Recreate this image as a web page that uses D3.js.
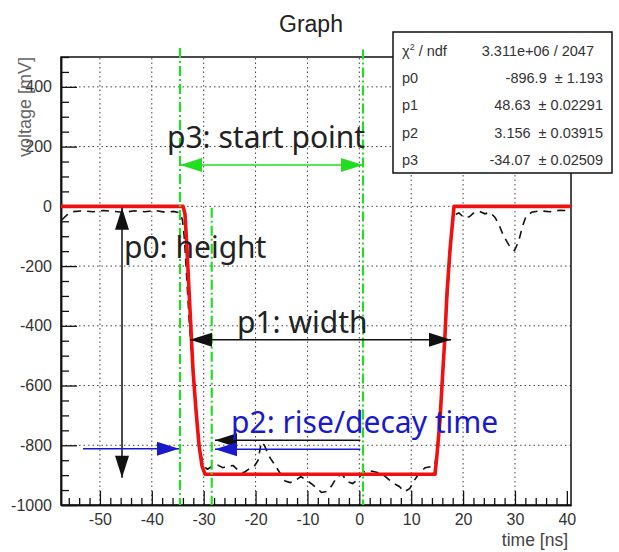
<!DOCTYPE html>
<html>
<head>
<meta charset="utf-8">
<script src="https://cdn.jsdelivr.net/npm/d3@7"></script>
<style>
body { margin: 0; background: #fff; }
svg { display: block; }
</style>
</head>
<body>
<svg id="chart" width="619" height="552"></svg>
<script>
// DATA
// measured trace (time [ns], voltage [mV]) read off the picture
var traceTime = [-57.3, -56.3, -55.3, -53.3, -51.3, -49.3, -47.3, -45.3, -43.3, -41.3, -39.3, -37.3, -35.8, -34.6, -34.1, -33.7, -33.3, -32.8, -32.3, -31.8, -31.3, -30.8, -30.3, -29.8, -29.3,
    -28.3, -27.3, -26.3, -25.3, -24.3, -23.3, -22.3, -21.3, -20.3, -19.5, -18.9, -18.3, -17.7, -17.1, -16.3, -15.3, -14.3, -13.3, -12.3, -11.3, -10.3, -9.3, -8.3, -7.3, -6.3, -5.3, -4.3, -3.3, -2.3, -1.3, -0.3,
    0.7, 1.7, 2.7, 3.7, 4.7, 5.7, 6.7, 7.7, 8.7, 9.7, 10.7, 11.7, 12.7, 13.7, 14.5, 15, 15.5, 16, 16.5, 17, 17.5, 17.9, 18.3, 19.2, 20.2, 21.2, 22.2, 23.2, 24.2, 25.2,
    26.2, 27, 27.7, 28.5, 29.2, 29.9, 30.7, 31.4, 32.1, 33.2, 34.7, 36.7, 38.7, 40.7];
var traceVolt = [-45, -28, -18, -15, -18, -14, -17, -20, -15, -18, -14, -20, -17, -22, -45, -110, -230, -380, -500, -620, -720, -800, -850, -872, -880,
    -870, -866, -875, -870, -868, -885, -892, -880, -872, -850, -790, -800, -825, -845, -865, -893, -920, -925, -918, -905, -915, -928, -942, -958, -955, -935, -905, -898, -922, -928, -915,
    -890, -884, -888, -892, -900, -915, -928, -938, -955, -945, -915, -890, -875, -872, -870, -820, -720, -590, -440, -300, -160, -70, -28, -22, -38, -35, -20, -17, -25, -20,
    -38, -65, -95, -120, -140, -148, -118, -70, -35, -20, -15, -18, -13, -15];

// fit curve
var fitTime = [-57.5, -33.98, -33.6, -33.21, -32.83, -32.44, -32.06, -31.48, -30.9, -30.32, -29.74, 14.59, 14.97, 15.55, 15.94, 16.52, 16.9, 17.48, 17.87, 18.25, 40.8];
var fitVolt = [0, 0, -26, -146, -280, -414, -548, -682, -799, -869, -897, -897, -832, -715, -598, -430, -290, -146, -72, 0, 0];

// axes
var xDomain = [-57.5, 40.8];
var yDomain = [-1000, 500];
var xMajor = [-50, -40, -30, -20, -10, 0, 10, 20, 30, 40];
var yMajor = [-1000, -800, -600, -400, -200, 0, 200, 400];

// stats box
var statNames = ['p0', 'p1', 'p2', 'p3'];
var statValues = ['-896.9', '48.63', '3.156', '-34.07'];
var statErrors = ['1.193', '0.02291', '0.03915', '0.02509'];
var chiText = '3.311e+06 / 2047';

// annotation marks (time, voltage)
var greenLines = [[-34.56, 530], [-28.45, -5], [0.71, 525]];
var labels = ['p3: start point', 'p0: height', 'p1: width', 'p2: rise/decay time'];

//.................................................................................................................//
var svg = d3.select('#chart');
var x = d3.scaleLinear().domain(xDomain).range([61, 571]);
var y = d3.scaleLinear().domain(yDomain).range([505, 57]);
var sans = 'Liberation Sans, Arial, sans-serif';

// Title
svg.append('text')
    .attr('x', 311).attr('y', 32)
    .attr('text-anchor', 'middle')
    .style('font-family', sans)
    .style('font-size', '23px')
    .style('fill', '#222')
    .text('Graph');

// Grid
svg.append('g').selectAll('line')
    .data(xMajor.filter(d => d < 40))
    .enter().append('line')
    .attr('x1', d => x(d)).attr('x2', d => x(d))
    .attr('y1', y(yDomain[0])).attr('y2', y(yDomain[1]))
    .style('stroke', '#444').style('stroke-width', 1)
    .style('stroke-dasharray', '1.5,3');
svg.append('g').selectAll('line')
    .data(yMajor.filter(d => d > -1000))
    .enter().append('line')
    .attr('x1', x(xDomain[0])).attr('x2', x(xDomain[1]))
    .attr('y1', d => y(d)).attr('y2', d => y(d))
    .style('stroke', '#444').style('stroke-width', 1)
    .style('stroke-dasharray', '1.5,3');

// Axes (ticks inside, ROOT style)
var xMinor = d3.range(-56, 40.1, 2).filter(d => xMajor.indexOf(d) < 0);
var yMinor = d3.range(-1000, 500.1, 50).filter(d => yMajor.indexOf(d) < 0);

var gx = svg.append('g').attr('transform', 'translate(0,' + y(yDomain[0]) + ')');
gx.call(d3.axisBottom(x).tickValues(xMajor).tickFormat(d => String(d)).tickSizeInner(-14).tickSizeOuter(0).tickPadding(9));
gx.append('g').call(d3.axisBottom(x).tickValues(xMinor).tickSizeInner(-7).tickSizeOuter(0).tickFormat(''));
var gy = svg.append('g').attr('transform', 'translate(' + x(xDomain[0]) + ',0)');
gy.call(d3.axisLeft(y).tickValues(yMajor).tickFormat(d => String(d)).tickSizeInner(-16).tickSizeOuter(0).tickPadding(9));
gy.append('g').call(d3.axisLeft(y).tickValues(yMinor).tickSizeInner(-8).tickSizeOuter(0).tickFormat(''));
svg.selectAll('.tick line').style('stroke', '#111').style('stroke-width', 1.3);
svg.selectAll('.domain').style('stroke', '#111').style('stroke-width', 1.5);
svg.selectAll('.tick text')
    .style('font-family', sans)
    .style('font-size', '16px')
    .style('fill', '#333');

// Frame
svg.append('rect')
    .attr('x', x(xDomain[0])).attr('y', y(yDomain[1]))
    .attr('width', x(xDomain[1]) - x(xDomain[0])).attr('height', y(yDomain[0]) - y(yDomain[1]))
    .style('fill', 'none').style('stroke', '#111').style('stroke-width', 1.5);

// Axis titles
svg.append('text')
    .attr('transform', 'translate(31,' + y(yDomain[1]) + ') rotate(-90)')
    .attr('text-anchor', 'end')
    .style('font-family', sans)
    .style('font-size', '18px')
    .style('fill', '#666')
    .text('voltage [mV]');
svg.append('text')
    .attr('x', 568).attr('y', 546)
    .attr('text-anchor', 'end')
    .style('font-family', sans)
    .style('font-size', '17.5px')
    .style('fill', '#444')
    .text('time [ns]');

// Clip
svg.append('clipPath').attr('id', 'plotclip').append('rect')
    .attr('x', x(xDomain[0])).attr('y', y(yDomain[1]))
    .attr('width', x(xDomain[1]) - x(xDomain[0])).attr('height', y(yDomain[0]) - y(yDomain[1]));

// Measured trace (dashed black)
var traceLine = d3.line().x(d => x(d[0])).y(d => y(d[1]));
svg.append('path')
    .datum(traceTime.map((t, i) => [t, traceVolt[i]]))
    .attr('d', traceLine)
    .attr('clip-path', 'url(#plotclip)')
    .style('fill', 'none').style('stroke', '#111').style('stroke-width', 1.6)
    .style('stroke-dasharray', '8,6');

// Fit (red)
svg.append('path')
    .datum(fitTime.map((t, i) => [t, fitVolt[i]]))
    .attr('d', traceLine)
    .attr('clip-path', 'url(#plotclip)')
    .style('fill', 'none').style('stroke', '#f01010').style('stroke-width', 3.6)
    .style('stroke-linejoin', 'round');

//.................................................................................................................//
// ANNOTATIONS
function arrowHead(tx, ty, dx, dy, color) {
    var len = 22, hw = 7;
    var n = Math.sqrt(dx * dx + dy * dy); dx /= n; dy /= n;
    var bx = tx - dx * len, by = ty - dy * len;
    svg.append('polygon')
        .attr('points', [[tx, ty], [bx - dy * hw, by + dx * hw], [bx + dy * hw, by - dx * hw]].map(p => p.join(',')).join(' '))
        .style('fill', color);
}
function arrow(t1, v1, t2, v2, color, both) {
    var x1 = x(t1), y1 = y(v1), x2 = x(t2), y2 = y(v2);
    svg.append('line')
        .attr('x1', x1).attr('y1', y1).attr('x2', x2).attr('y2', y2)
        .style('stroke', color).style('stroke-width', 1.5);
    arrowHead(x2, y2, x2 - x1, y2 - y1, color);
    if (both) arrowHead(x1, y1, x1 - x2, y1 - y2, color);
}
function label(t, v, txt, color) {
    svg.append('text')
        .attr('x', x(t)).attr('y', y(v))
        .style('font-family', 'Noto Sans, sans-serif')
        .style('font-size', '30px')
        .style('fill', color)
        .text(txt);
}

// green dash-dot markers
svg.append('g').selectAll('line')
    .data(greenLines)
    .enter().append('line')
    .attr('x1', d => x(d[0])).attr('x2', d => x(d[0]))
    .attr('y1', d => y(d[1])).attr('y2', y(yDomain[0]))
    .style('stroke', '#22dd22').style('stroke-width', 2.2)
    .style('stroke-dasharray', '10,3,2,3');

arrow(-34.56, 138, 0.71, 138, '#22dd22', true);
label(-37.07, 195, labels[0], '#222');

arrow(-45.74, -5, -45.74, -909, '#111', true);
label(-45.36, -173, labels[1], '#222');

arrow(-32.64, -447, 17.67, -447, '#111', true);
label(-23.58, -424, labels[2], '#222');

arrow(-53.26, -812, -34.76, -812, '#1a1acc', false);
arrow(0.2, -783, -27.82, -783, '#111', false);
arrow(0.2, -813, -27.82, -813, '#1a1acc', false);
label(-24.73, -759, labels[3], '#1a1acc');

//.................................................................................................................//
// STATS BOX
var box = svg.append('g');
box.append('rect')
    .attr('x', 393).attr('y', 32).attr('width', 219).attr('height', 141)
    .style('fill', '#fff').style('stroke', '#111').style('stroke-width', 1.5);
var rowY = [56, 83, 110, 138, 165];
var chi = box.append('text')
    .attr('x', 402).attr('y', rowY[0])
    .style('font-family', sans)
    .style('font-size', '14.5px').style('fill', '#333');
chi.append('tspan').text('χ');
chi.append('tspan').attr('dy', -6).style('font-size', '9px').text('2');
chi.append('tspan').attr('dy', 6).text(' / ndf');
box.append('text')
    .attr('x', 594).attr('y', rowY[0]).attr('text-anchor', 'end')
    .style('font-family', sans)
    .style('font-size', '14.5px').style('fill', '#333')
    .text(chiText);
statNames.forEach(function(n, i) {
    box.append('text')
        .attr('x', 402).attr('y', rowY[i + 1])
        .style('font-family', sans)
        .style('font-size', '14.5px').style('fill', '#333')
        .text(n);
    var err = box.append('text')
        .attr('x', 603).attr('y', rowY[i + 1]).attr('text-anchor', 'end')
        .style('font-family', sans)
        .style('font-size', '14.5px').style('fill', '#333')
        .text('\u00b1 ' + statErrors[i]);
    var w = err.node().getComputedTextLength();
    box.append('text')
        .attr('x', 603 - w - 8).attr('y', rowY[i + 1]).attr('text-anchor', 'end')
        .style('font-family', sans)
        .style('font-size', '14.5px').style('fill', '#333')
        .text(statValues[i]);
});
</script>
</body>
</html>
